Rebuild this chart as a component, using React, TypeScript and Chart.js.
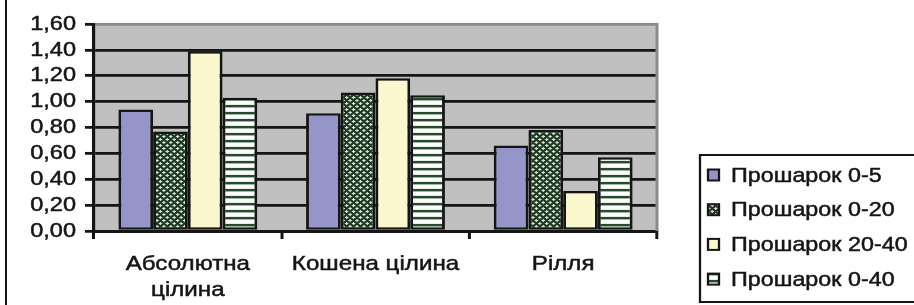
import React, { useEffect, useRef } from 'react';
import { Chart, registerables } from 'chart.js';

Chart.register(...registerables);

// ---------- data ----------
const categories: (string | string[])[] = [['Абсолютна', 'цілина'], 'Кошена цілина', 'Рілля'];
const seriesLabels = ['Прошарок 0-5', 'Прошарок 0-20', 'Прошарок 20-40', 'Прошарок 0-40'];
const layer0to5 = [0.94, 0.91, 0.66];
const layer0to20 = [0.77, 1.07, 0.78];
const layer20to40 = [1.39, 1.18, 0.31];
const layer0to40 = [1.03, 1.05, 0.57];
const yTickLabels = ['0,00', '0,20', '0,40', '0,60', '0,80', '1,00', '1,20', '1,40', '1,60'];

// ---------- geometry (display px, horizontally stretched drawing) ----------
const W = 914;
const H = 305;
const LW = 795; // logical width
const SX = W / LW;
const X = (px: number) => px / SX;
const FONT = "'Liberation Sans', Arial, sans-serif";
const INK = '#151515';

function makePatterns(ctx: CanvasRenderingContext2D) {
  const a = document.createElement('canvas');
  a.width = 6;
  a.height = 6;
  const g = a.getContext('2d')!;
  g.fillStyle = '#1f3b24';
  g.fillRect(0, 0, 6, 6);
  g.fillStyle = '#d8e4d8';
  g.fillRect(0, 1, 3, 1);
  g.fillRect(1, 0, 1, 3);
  g.fillRect(3, 4, 3, 1);
  g.fillRect(4, 3, 1, 3);
  const checker = ctx.createPattern(a, 'repeat')!;

  const b = document.createElement('canvas');
  b.width = 4;
  b.height = 7;
  const h = b.getContext('2d')!;
  h.fillStyle = '#ffffff';
  h.fillRect(0, 0, 4, 7);
  h.fillStyle = '#274a2c';
  h.fillRect(0, 0, 4, 2);
  h.fillStyle = '#a9c0a9';
  h.fillRect(0, 2, 4, 1);
  h.fillStyle = '#e4ece4';
  h.fillRect(0, 6, 4, 1);
  const stripes = ctx.createPattern(b, 'repeat')!;
  return { checker, stripes };
}

const decorPlugin = {
  id: 'decor',
  beforeDraw(chart: any) {
    const { ctx, chartArea: a } = chart;
    ctx.save();
    ctx.fillStyle = '#c0c0c0';
    ctx.fillRect(a.left, a.top, a.right - a.left, a.bottom - a.top);
    ctx.restore();
  },
  afterDraw(chart: any) {
    const { ctx, chartArea: a } = chart;
    ctx.save();
    // right plot border (gray)
    ctx.strokeStyle = '#8c8c8c';
    ctx.lineWidth = X(3);
    ctx.beginPath();
    ctx.moveTo(a.right, a.top - 1);
    ctx.lineTo(a.right, a.bottom);
    ctx.stroke();

    // left frame line
    ctx.strokeStyle = INK;
    ctx.lineWidth = X(2);
    ctx.beginPath();
    ctx.moveTo(X(6), 0);
    ctx.lineTo(X(6), H);
    ctx.stroke();

    // legend box
    const lx = X(700);
    ctx.lineWidth = 2;
    ctx.strokeStyle = INK;
    ctx.strokeRect(lx, 155, LW - lx + 10, 147);

    ctx.font = `20.3px ${FONT}`;
    ctx.textBaseline = 'middle';
    ctx.textAlign = 'left';
    chart.data.datasets.forEach((ds: any, i: number) => {
      const cy = 175 + i * 34.7;
      ctx.fillStyle = ds.backgroundColor;
      ctx.fillRect(X(708), cy - 5.5, X(11), 11);
      ctx.lineWidth = 2;
      ctx.strokeStyle = INK;
      ctx.strokeRect(X(708), cy - 5.5, X(11), 11);
      ctx.fillStyle = INK;
      ctx.strokeStyle = INK;
      ctx.lineWidth = 0.5;
      ctx.fillText(ds.label, X(731), cy + 1);
      ctx.strokeText(ds.label, X(731), cy + 1);
    });
    ctx.restore();
  },
};

export default function App() {
  const ref = useRef<HTMLCanvasElement | null>(null);

  useEffect(() => {
    const canvas = ref.current!;
    const ctx0 = canvas.getContext('2d')!;
    const { checker, stripes } = makePatterns(ctx0);
    const fills = ['#9595c9', checker, '#fbf8d0', stripes];
    const values = [layer0to5, layer0to20, layer20to40, layer0to40];

    const chart = new Chart(canvas, {
      type: 'bar',
      data: {
        labels: categories,
        datasets: seriesLabels.map((label, i) => ({
          label,
          data: values[i],
          backgroundColor: fills[i] as any,
          borderColor: INK,
          borderWidth: 2.5,
          borderSkipped: false,
          categoryPercentage: 0.74,
          barPercentage: 1.0,
        })),
      },
      options: {
        responsive: false,
        animation: false,
        devicePixelRatio: 1,
        events: [],
        layout: { padding: { left: 0, top: 24, right: LW - X(657), bottom: 0 } },
        plugins: {
          legend: { display: false },
          tooltip: { enabled: false },
        },
        scales: {
          x: {
            offset: true,
            grid: {
              display: true,
              offset: true,
              drawOnChartArea: false,
              drawTicks: true,
              tickLength: 8,
              tickColor: INK,
              tickWidth: X(3),
              lineWidth: X(3),
              color: INK,
            },
            border: { display: true, color: INK, width: 3 },
            ticks: {
              color: INK,
              font: { family: FONT, size: 21, lineHeight: 1.25 },
              textStrokeColor: INK,
              textStrokeWidth: 0.5,
              padding: 12,
              maxRotation: 0,
              minRotation: 0,
              autoSkip: false,
            },
            afterFit: (s: any) => {
              s.height = H - 231;
            },
          },
          y: {
            min: 0,
            max: 1.6,
            ticks: {
              stepSize: 0.2,
              autoSkip: false,
              color: INK,
              font: { family: FONT, size: 20.5 },
              textStrokeColor: INK,
              textStrokeWidth: 0.5,
              padding: X(9),
              callback: (_v: any, i: number) => yTickLabels[i],
            },
            grid: {
              drawTicks: true,
              tickLength: X(9),
              tickColor: INK,
              tickWidth: 2.8,
              lineWidth: 2.7,
              color: (c: any) => (c.index === yTickLabels.length - 1 ? '#8c8c8c' : INK),
            },
            border: { display: true, color: INK, width: X(3.2) },
            afterFit: (s: any) => {
              s.width = X(94);
            },
          },
        },
      },
      plugins: [decorPlugin],
    });

    // stretch drawing horizontally to the full display width
    canvas.width = W;
    canvas.height = H;
    chart.ctx.setTransform(SX, 0, 0, 1, 0, 0);
    chart.draw();

    return () => {
      chart.destroy();
    };
  }, []);

  return (
    <div style={{ position: 'absolute', left: 0, top: 0, width: W, height: H, background: '#fff' }}>
      <canvas
        ref={ref}
        width={LW}
        height={H}
        style={{ width: `${W}px`, height: `${H}px`, display: 'block' }}
      />
    </div>
  );
}
